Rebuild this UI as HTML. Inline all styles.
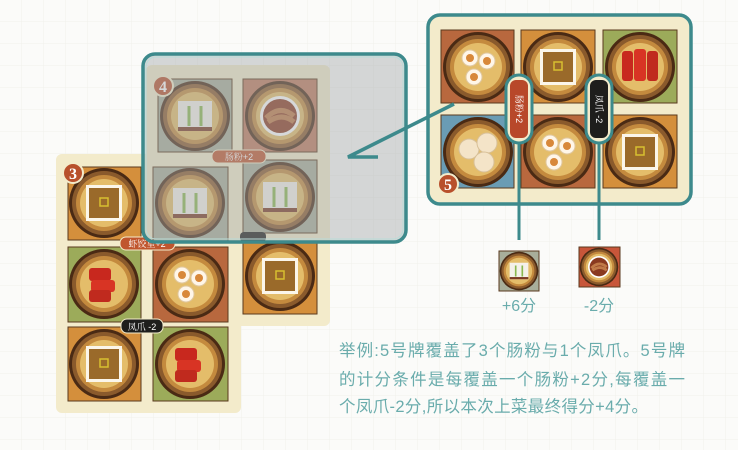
<!DOCTYPE html>
<html><head><meta charset="utf-8"><style>
html,body{margin:0;padding:0;background:#fbfbf9;width:738px;height:450px;overflow:hidden}
svg{display:block}
</style></head><body>
<svg width="738" height="450" viewBox="0 0 738 450" xmlns="http://www.w3.org/2000/svg">
<defs>
<pattern id="grid" width="22" height="22" patternUnits="userSpaceOnUse">
<path d="M22 0V22M0 22H22" stroke="#f0f0ec" stroke-width="1" fill="none"/>
</pattern>
<g id="plate">
<circle r="35" fill="#4a2a14"/>
<circle r="32" fill="#8a5a2c"/>
<circle r="28" fill="#c48a3e"/>
<circle r="24" fill="#e4bd6a"/>
</g>
<g id="cake"><rect x="-18" y="-18" width="36" height="36" fill="#fbf6ea"/><rect x="-15" y="-15" width="30" height="30" fill="#9a6a2a"/><rect x="-4" y="-5" width="8" height="8" fill="none" stroke="#d8c030" stroke-width="1.5"/></g>
<g id="veg"><rect x="-17" y="-15" width="34" height="30" fill="#f4f1ea"/><rect x="-17" y="11" width="34" height="4" fill="#7a3a24"/><path d="M-6-10v20M6-10v20" stroke="#8ab850" stroke-width="3"/></g>
<g id="chang"><rect x="-15" y="-16" width="22" height="13" rx="3" fill="#c8281e"/><rect x="-13" y="-4" width="24" height="12" rx="3" fill="#d83424"/><rect x="-15" y="6" width="22" height="12" rx="3" fill="#c02a1e"/></g>
<g id="changv"><rect x="-18" y="-16" width="11" height="30" rx="3" fill="#c8281e"/><rect x="-6" y="-18" width="12" height="32" rx="3" fill="#d83424"/><rect x="7" y="-16" width="11" height="30" rx="3" fill="#c02a1e"/></g>
<g id="shao"><g fill="#fff6e8" stroke="#e0c8a0"><circle cx="-8" cy="-9" r="8"/><circle cx="9" cy="-6" r="8"/><circle cx="-4" cy="10" r="8"/></g><g fill="#d8883a"><circle cx="-8" cy="-9" r="4"/><circle cx="9" cy="-6" r="4"/><circle cx="-4" cy="10" r="4"/></g></g>
<g id="har"><g fill="#f4e4c8" stroke="#d8c098"><circle cx="-9" cy="-3" r="10"/><circle cx="9" cy="-9" r="10"/><circle cx="6" cy="10" r="10"/></g></g>
<g id="feng"><circle r="20" fill="#fff"/><circle r="17" fill="#8a3a20"/><path d="M-14 2 Q0-12 14 0 M-12 6 Q2-4 14 6" stroke="#c07a48" stroke-width="5" fill="none"/></g>
</defs>
<rect width="738" height="450" fill="url(#grid)"/>

<!-- Card 3 -->
<path d="M62 154H324a6 6 0 0 1 6 6V320a6 6 0 0 1-6 6H241V407a6 6 0 0 1-6 6H62a6 6 0 0 1-6-6V160a6 6 0 0 1 6-6z" fill="#f3ebcb"/>
<rect x="68" y="167" width="73" height="73" fill="#d48f3c" stroke="#5a3a1e"/>
<use href="#plate" x="104" y="203"/><use href="#cake" x="104" y="203"/>
<rect x="68" y="247" width="73" height="75" fill="#9cab5a" stroke="#5a3a1e"/>
<use href="#plate" x="104" y="284"/><use href="#chang" x="104" y="284"/>
<rect x="153" y="247" width="75" height="75" fill="#b8683e" stroke="#5a3a1e"/>
<use href="#plate" x="190" y="284"/><use href="#shao" x="190" y="284"/>
<rect x="243" y="236" width="74" height="78" fill="#d48f3c" stroke="#5a3a1e"/>
<use href="#plate" x="280" y="276"/><use href="#cake" x="280" y="276"/>
<rect x="68" y="327" width="73" height="74" fill="#d48f3c" stroke="#5a3a1e"/>
<use href="#plate" x="104" y="364"/><use href="#cake" x="104" y="364"/>
<rect x="153" y="327" width="75" height="74" fill="#9cab5a" stroke="#5a3a1e"/>
<use href="#plate" x="190" y="364"/><use href="#chang" x="190" y="364"/>
<circle cx="73" cy="173" r="10" fill="#b8502c" stroke="#f3ebcb" stroke-width="2"/>
<text x="73" y="179" font-family="Liberation Serif,serif" font-size="16" font-weight="bold" fill="#fff" text-anchor="middle">3</text>
<rect x="120" y="237" width="55" height="13" rx="6" fill="#c0562e" stroke="#f3ebcb"/>
<text x="147" y="247" font-family="Liberation Sans,'Noto Serif CJK SC',serif" font-size="9" fill="#fff" text-anchor="middle">虾饺皇+2</text>
<rect x="121" y="319" width="42" height="14" rx="6" fill="#1e1e1c" stroke="#f3ebcb"/>
<text x="142" y="330" font-family="Liberation Sans,'Noto Serif CJK SC',serif" font-size="9" fill="#fff" text-anchor="middle">凤爪 -2</text>

<!-- Card 4 -->
<rect x="146" y="65" width="184" height="178" rx="6" fill="#f3ebcb"/>
<rect x="158" y="79" width="74" height="73" fill="#a8ae9a" stroke="#5a3a1e"/>
<use href="#plate" x="195" y="116"/><use href="#veg" x="195" y="116"/>
<rect x="243" y="79" width="74" height="73" fill="#c07a5e" stroke="#5a3a1e"/>
<use href="#plate" x="280" y="116"/><use href="#feng" x="280" y="116"/>
<rect x="153" y="167" width="75" height="76" fill="#a8ae9a" stroke="#5a3a1e"/>
<use href="#plate" x="190" y="203"/><use href="#veg" x="190" y="203"/>
<rect x="243" y="160" width="74" height="73" fill="#a8ae9a" stroke="#5a3a1e"/>
<use href="#plate" x="280" y="197"/><use href="#veg" x="280" y="197"/>
<rect x="212" y="150" width="54" height="13" rx="6" fill="#c0562e" stroke="#f3ebcb"/>
<text x="239" y="160" font-family="Liberation Sans,'Noto Serif CJK SC',serif" font-size="9" fill="#fff" text-anchor="middle">肠粉+2</text>
<rect x="240" y="232" width="26" height="10" rx="4" fill="#1e1e1c"/>
<circle cx="163" cy="86" r="10" fill="#b8502c" stroke="#f3ebcb" stroke-width="2"/>
<text x="163" y="92" font-family="Liberation Serif,serif" font-size="16" font-weight="bold" fill="#fff" text-anchor="middle">4</text>
<rect x="143" y="54" width="263" height="188" rx="12" fill="rgba(165,168,170,0.45)" stroke="#3d8a8c" stroke-width="3.5"/>
<rect x="146" y="57" width="257" height="182" rx="10" fill="none" stroke="#b8dcd8" stroke-width="1"/>

<!-- Card 5 -->
<rect x="428" y="15" width="263" height="189" rx="12" fill="#f3ebcb" stroke="#3d8a8c" stroke-width="3.5"/>
<rect x="441" y="30" width="73" height="73" fill="#b8683e" stroke="#5a3a1e"/>
<use href="#plate" x="478" y="67"/><use href="#shao" x="478" y="67"/>
<rect x="521" y="30" width="74" height="73" fill="#d48f3c" stroke="#5a3a1e"/>
<use href="#plate" x="558" y="67"/><use href="#cake" x="558" y="67"/>
<rect x="603" y="30" width="74" height="73" fill="#9cab5a" stroke="#5a3a1e"/>
<use href="#plate" x="640" y="67"/><use href="#changv" x="640" y="67"/>
<rect x="441" y="115" width="73" height="73" fill="#6a9cb4" stroke="#5a3a1e"/>
<use href="#plate" x="478" y="152"/><use href="#har" x="478" y="152"/>
<rect x="521" y="115" width="74" height="73" fill="#b8683e" stroke="#5a3a1e"/>
<use href="#plate" x="558" y="152"/><use href="#shao" x="558" y="152"/>
<rect x="603" y="115" width="74" height="73" fill="#d48f3c" stroke="#5a3a1e"/>
<use href="#plate" x="640" y="152"/><use href="#cake" x="640" y="152"/>
<circle cx="448" cy="184" r="10" fill="#b8502c" stroke="#f3ebcb" stroke-width="2"/>
<text x="448" y="190" font-family="Liberation Serif,serif" font-size="16" font-weight="bold" fill="#fff" text-anchor="middle">5</text>
<!-- connector -->
<path d="M454 104 L348 157 L378 157" stroke="#3d8a8c" stroke-width="3.5" fill="none"/>
<!-- pills -->
<line x1="519" y1="140" x2="519" y2="240" stroke="#3d8a8c" stroke-width="3"/>
<line x1="599" y1="140" x2="599" y2="240" stroke="#3d8a8c" stroke-width="3"/>
<rect x="506" y="75" width="26" height="68" rx="13" fill="#f3ebcb" stroke="#3d8a8c" stroke-width="3"/>
<rect x="510" y="80" width="18" height="58" rx="6" fill="#b8482a"/>
<text transform="translate(519 109) rotate(90)" font-family="Liberation Sans,'Noto Serif CJK SC',serif" font-size="9" fill="#fff" text-anchor="middle" dy="3">肠粉+2</text>
<rect x="586" y="75" width="26" height="68" rx="13" fill="#f3ebcb" stroke="#3d8a8c" stroke-width="3"/>
<rect x="590" y="80" width="18" height="58" rx="6" fill="#1e1e1c"/>
<text transform="translate(599 109) rotate(90)" font-family="Liberation Sans,'Noto Serif CJK SC',serif" font-size="9" fill="#fff" text-anchor="middle" dy="3">凤爪 -2</text>

<!-- small tiles -->
<rect x="499" y="251" width="40" height="40" fill="#a8ae9a" stroke="#5a3a1e"/>
<g transform="translate(519 271) scale(0.55)"><use href="#plate"/><use href="#veg"/></g>
<rect x="579" y="247" width="41" height="40" fill="#c8563a" stroke="#5a3a1e"/>
<g transform="translate(599 267) scale(0.55)"><use href="#plate"/><use href="#feng"/></g>
<g font-family="Liberation Sans,'Noto Sans CJK SC',sans-serif" font-size="16" fill="#6aacac" text-anchor="middle">
<text x="519" y="311">+6分</text>
<text x="599" y="311">-2分</text>
</g>
<g font-family="Liberation Sans,'Noto Sans CJK SC',sans-serif" font-size="16.5" fill="#6aacac" letter-spacing="1">
<text x="339" y="356" textLength="347" lengthAdjust="spacing">举例:5号牌覆盖了3个肠粉与1个凤爪。5号牌</text>
<text x="339" y="385" textLength="347" lengthAdjust="spacing">的计分条件是每覆盖一个肠粉+2分,每覆盖一</text>
<text x="339" y="412" textLength="310" lengthAdjust="spacing">个凤爪-2分,所以本次上菜最终得分+4分。</text>
</g>
</svg>
</body></html>
